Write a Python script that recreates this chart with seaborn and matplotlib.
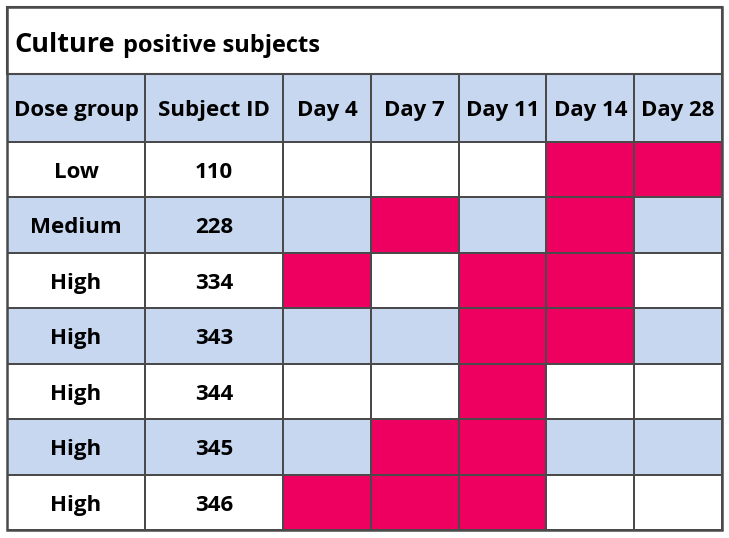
import numpy as np
import matplotlib
matplotlib.use("Agg")
import matplotlib.pyplot as plt
from matplotlib.colors import ListedColormap
from matplotlib.patches import Rectangle
import seaborn as sns

# Data
dose_groups = ["Low", "Medium", "High", "High", "High", "High", "High"]
subject_ids = ["110", "228", "334", "343", "344", "345", "346"]
days = ["Day 4", "Day 7", "Day 11", "Day 14", "Day 28"]
left_headers = ["Dose group", "Subject ID"]
# 1 = culture positive on that day
positive = [
    [0, 0, 0, 1, 1],
    [0, 1, 0, 1, 0],
    [1, 0, 1, 1, 0],
    [0, 0, 1, 1, 0],
    [0, 0, 1, 0, 0],
    [0, 1, 1, 0, 0],
    [1, 1, 1, 0, 0],
]

WHITE = "#FFFFFF"
BLUE = "#C6D7EF"
MAGENTA = "#EE0060"
LINE = "#4a4a4a"
cmap = ListedColormap([WHITE, BLUE, MAGENTA])

sns.set_theme(style="white")
plt.rcParams["font.family"] = ["Open Sans", "DejaVu Sans"]

W, H = 729, 538
fig = plt.figure(figsize=(W / 100, H / 100), dpi=100)


def px_axes(x0, y0, x1, y1):
    return fig.add_axes([x0 / W, 1 - y1 / H, (x1 - x0) / W, (y1 - y0) / H])


def nudge_down(ax, dy):
    # annotations sit a touch low in the original
    for t in ax.texts:
        x, y = t.get_position()
        t.set_position((x, y + dy))


x_left, x_mid, x_right = 7, 283, 722
y_top, y_head, y_body, y_bot = 7, 74, 142, 530

n = len(subject_ids)
stripe = np.array([i % 2 for i in range(n)])
pos = np.array(positive)
body_right = np.where(pos == 1, 2, stripe[:, None])
body_left = np.repeat(stripe[:, None], 2, axis=1)
left_text = np.array([dose_groups, subject_ids]).T

kw = dict(cmap=cmap, vmin=-0.5, vmax=2.5, cbar=False, linewidths=1.2,
          linecolor=LINE, xticklabels=False, yticklabels=False)
txt = dict(fontsize=16, fontweight="bold", color="black")

ax = px_axes(x_left, y_head, x_mid, y_body)
sns.heatmap(np.ones((1, 2)), annot=np.array([left_headers]), fmt="",
            annot_kws=txt, ax=ax, **kw)
nudge_down(ax, 0.03)
ax = px_axes(x_mid, y_head, x_right, y_body)
sns.heatmap(np.ones((1, 5)), annot=np.array([days]), fmt="",
            annot_kws=txt, ax=ax, **kw)
nudge_down(ax, 0.03)
ax = px_axes(x_left, y_body, x_mid, y_bot)
sns.heatmap(body_left, annot=left_text, fmt="", annot_kws=txt, ax=ax, **kw)
nudge_down(ax, 0.05)
ax = px_axes(x_mid, y_body, x_right, y_bot)
sns.heatmap(body_right, ax=ax, **kw)

# title box
ax = px_axes(x_left, y_top, x_right, y_head)
ax.set_xlim(0, 1)
ax.set_ylim(0, 1)
ax.axis("off")
ax.add_patch(Rectangle((0, 0), 1, 1, facecolor="white", edgecolor=LINE,
                       linewidth=1.5, transform=ax.transAxes, clip_on=False))
t = ax.text(0.011, 0.33, "Culture", fontsize=19.5, fontweight="bold",
            color="black", va="baseline", ha="left")
fig.canvas.draw()
bb = t.get_window_extent().transformed(ax.transAxes.inverted())
ax.text(bb.x1 + 0.01, 0.33, "positive subjects", fontsize=17,
        fontweight="bold", color="black", va="baseline", ha="left")

# outer border
ax = px_axes(x_left, y_top, x_right, y_bot)
ax.axis("off")
ax.add_patch(Rectangle((0, 0), 1, 1, fill=False, edgecolor=LINE,
                       linewidth=1.8, transform=ax.transAxes, clip_on=False))

fig.savefig("out.png", dpi=100)
